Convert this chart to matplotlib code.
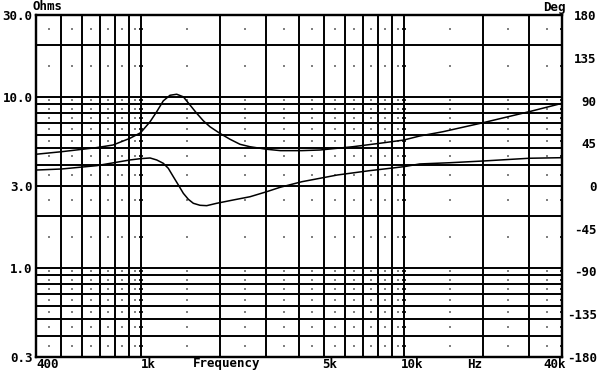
import matplotlib
matplotlib.use("Agg")
import matplotlib.pyplot as plt
import numpy as np

# impedance magnitude (left axis, ohms)
imp_freq = [400, 500, 680, 785, 910, 1000, 1086, 1151, 1219, 1293, 1371, 1453, 1540,
            1633, 1731, 1835, 2003, 2186, 2387, 2605, 3014, 3400, 4100, 4800, 6400,
            8100, 10000, 11500, 14100, 20000, 30000, 40000]
imp_ohms = [4.60, 4.76, 5.03, 5.21, 5.70, 6.15, 7.13, 8.16, 9.44, 10.18, 10.32, 9.97, 8.93,
            7.99, 7.22, 6.66, 6.09, 5.63, 5.26, 5.09, 4.92, 4.83, 4.83, 4.87, 5.09,
            5.33, 5.57, 5.88, 6.23, 7.03, 8.16, 9.13]

# phase (right axis, degrees)
ph_freq = [400, 500, 680, 910, 1000, 1086, 1151, 1219, 1274, 1331, 1391, 1453, 1518,
           1586, 1681, 1783, 1946, 2251, 2605, 3014, 3388, 4100, 5600, 7400, 10000,
           11500, 15000, 20000, 30000, 40000]
ph_deg = [16.8, 17.9, 21.4, 27.4, 28.8, 29.5, 27.4, 23.9, 18.6, 9.8, 1.1, -7.7, -14.0,
          -18.2, -20.3, -20.7, -18.2, -14.7, -11.3, -6.0, -1.4, 4.5, 11.6, 16.1, 20.3,
          23.2, 24.5, 26.3, 29.2, 29.8]

# grid
x_grid = [500, 600, 700, 800, 900, 1000, 2000, 3000, 4000, 5000, 6000, 7000, 8000,
          9000, 10000, 20000, 30000]
y_grid = [0.4, 0.5, 0.6, 0.7, 0.8, 0.9, 1, 2, 3, 4, 5, 6, 7, 8, 9, 10, 20]
x_dots = [450, 550, 650, 750, 850, 950, 1500, 2500, 3500, 4500, 5500, 6500, 7500,
          8500, 9500, 15000, 25000, 35000]
y_dots = [0.35, 0.45, 0.55, 0.65, 0.75, 0.85, 0.95, 1.5, 2.5, 3.5, 4.5, 5.5, 6.5,
          7.5, 8.5, 9.5, 15, 25]
x_dash = [1000, 10000, 40000]

left_ticks = [0.3, 1.0, 3.0, 10.0, 30.0]
left_labels = ["0.3", "1.0", "3.0", "10.0", "30.0"]
right_ticks = [-180, -135, -90, -45, 0, 45, 90, 135, 180]
right_labels = ["-180", "-135", "-90", "-45", "0", "45", "90", "135", "180"]

font = {"family": "DejaVu Sans Mono", "weight": "bold", "size": 9}

fig = plt.figure(figsize=(6, 3.84), dpi=100)
ax = fig.add_axes([36 / 600, 1 - 357 / 384, 526 / 600, 342 / 384])
ax.set_xscale("log")
ax.set_yscale("log")
ax.set_xlim(400, 40000)
ax.set_ylim(0.3, 30)

for xv in x_grid:
    ax.axvline(xv, color="black", lw=1.4, zorder=1)
for yv in y_grid:
    ax.axhline(yv, color="black", lw=1.4, zorder=1)

dx, dy = np.meshgrid(x_dots, y_dots)
ax.scatter(dx.ravel(), dy.ravel(), s=1.2, marker="s", color="#808080", lw=0, zorder=2)
mx, my = np.meshgrid(x_dash, y_dots)
ax.scatter(mx.ravel(), my.ravel(), s=12, marker="_", color="black", lw=1.2, zorder=2)

ax.plot(imp_freq, imp_ohms, color="black", lw=1.1, zorder=3)

ax.minorticks_off()
ax.set_yticks(left_ticks)
ax.set_yticklabels(left_labels, fontdict=font)
ax.set_xticks([])
ax.tick_params(axis="y", length=0, pad=2.5)
for s in ax.spines.values():
    s.set_linewidth(1.6)

ax2 = ax.twinx()
ax2.set_ylim(-180, 180)
ax2.plot(ph_freq, ph_deg, color="black", lw=1.1, zorder=3)
ax2.set_yticks(right_ticks)
ax2.set_yticklabels(right_labels, fontdict=font, ha="right")
ax2.tick_params(axis="y", length=0, pad=25)
for s in ax2.spines.values():
    s.set_linewidth(1.6)

# x labels
xt = ax.get_xaxis_transform()
ylab = -7 / 342
ax.text(400, ylab, "400", ha="left", va="center", transform=xt, **font)
ax.text(1000, ylab, "1k", ha="left", va="center", transform=xt, **font)
ax.text(2128, ylab, "Frequency", ha="center", va="center", transform=xt, **font)
ax.text(4900, ylab, "5k", ha="left", va="center", transform=xt, **font)
ax.text(9750, ylab, "10k", ha="left", va="center", transform=xt, **font)
ax.text(18650, ylab, "Hz", ha="center", va="center", transform=xt, **font)
ax.text(41500, ylab, "40k", ha="right", va="center", transform=xt, **font)

fig.text(47.5 / 600, 1 - 7 / 384, "Ohms", ha="center", va="center", **font)
fig.text(554 / 600, 1 - 7 / 384, "Deg", ha="center", va="center", **font)

fig.savefig("out.png", dpi=100)
